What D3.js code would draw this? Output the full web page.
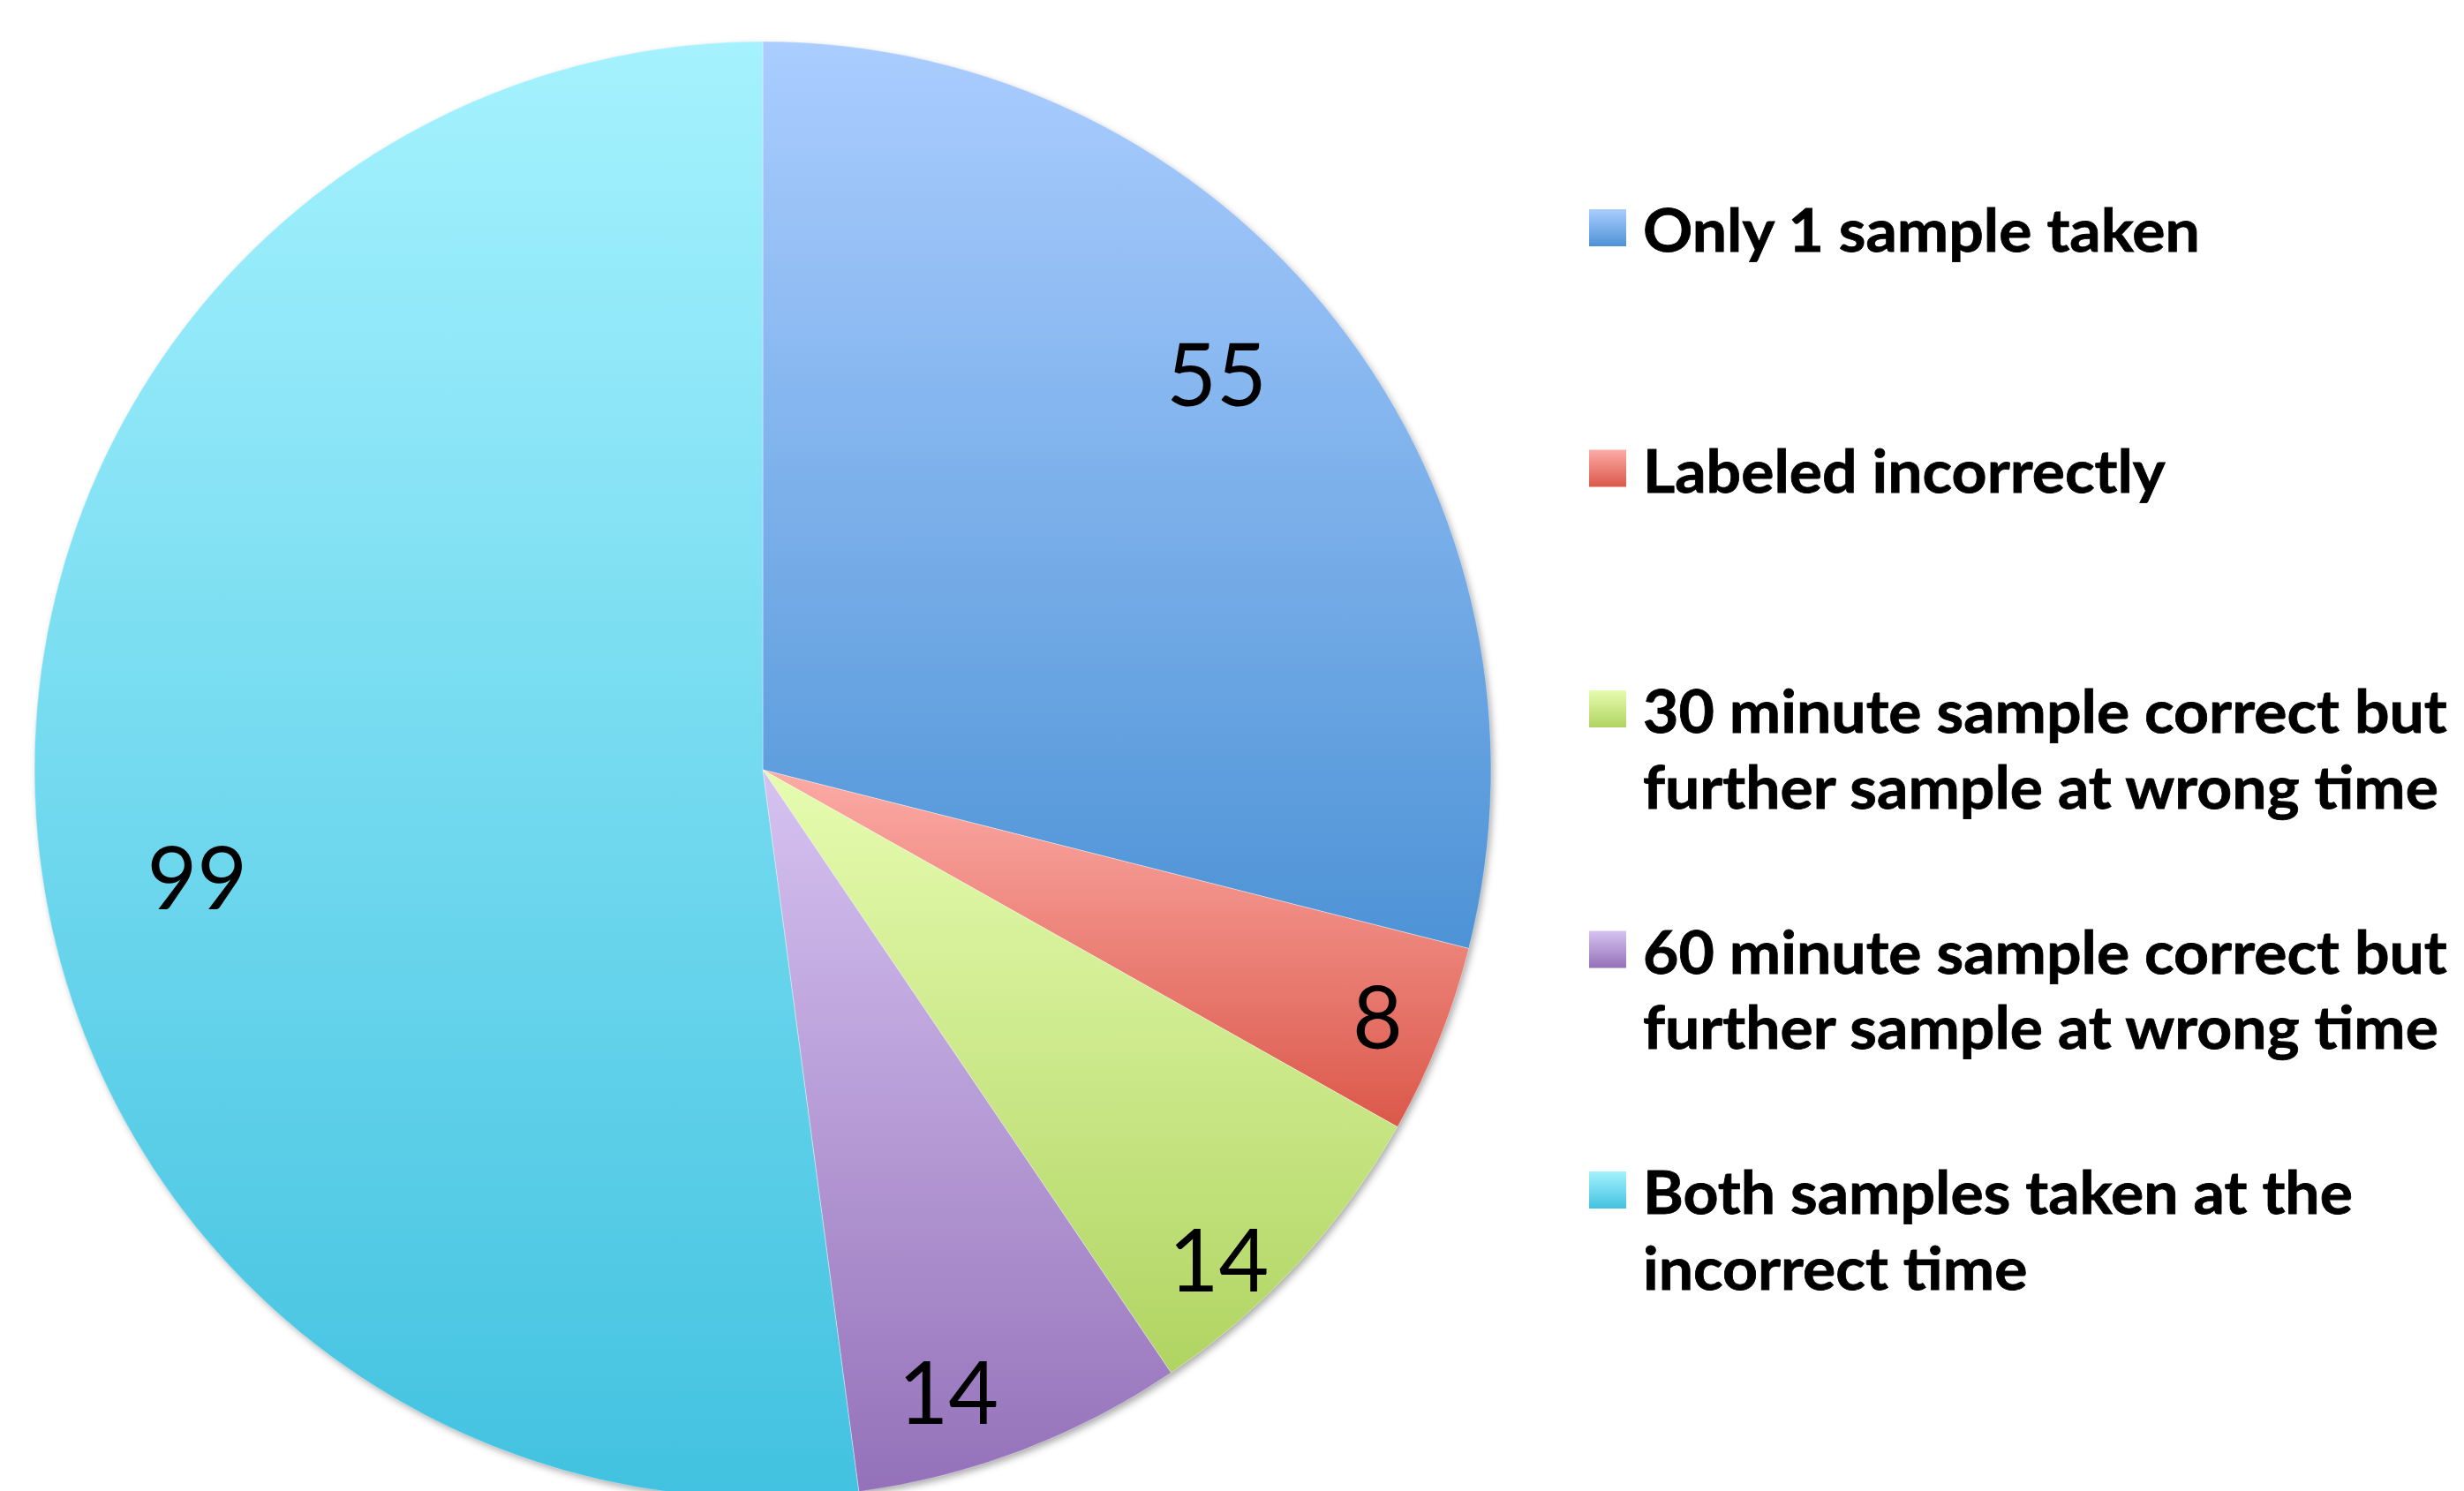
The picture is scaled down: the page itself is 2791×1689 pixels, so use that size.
<!DOCTYPE html>
<html>
<head>
<meta charset="utf-8">
<script src="https://cdn.jsdelivr.net/npm/d3@7"></script>
<style>
  html, body { margin: 0; padding: 0; background: #ffffff; }
  svg { display: block; }
</style>
</head>
<body>
<svg id="chart" width="2791" height="1689"></svg>
<script>
// ---- data ----
const categories = [
  "Only 1 sample taken",
  "Labeled incorrectly",
  "30 minute sample correct but further sample at wrong time",
  "60 minute sample correct but further sample at wrong time",
  "Both samples taken at the incorrect time"
];
const legendLines = [
  ["Only 1 sample taken"],
  ["Labeled incorrectly"],
  ["30 minute sample correct but", "further sample at wrong time"],
  ["60 minute sample correct but", "further sample at wrong time"],
  ["Both samples taken at the", "incorrect time"]
];
const values = [55, 8, 14, 14, 99];
const gradTop    = ["#abcdff", "#fcaba6", "#e6fcb0", "#d6c3f1", "#a5f2fe"];
const gradBottom = ["#4d93d6", "#db584a", "#b0d462", "#9471b9", "#42c2e0"];

// ---- layout config (label placement, like Excel "best fit") ----
const labelRadiusFrac = [0.828, 0.909, 0.917, 0.89, 0.79];
const labelAngleShiftDeg = [-3.3, 0, 4.3, 4.2, -6.8];

const W = 2791, H = 1689;
const cx = 864, cy = 872, R = 825;

const svg = d3.select("#chart");
const defs = svg.append("defs");

values.forEach((v, i) => {
  const g = defs.append("linearGradient")
    .attr("id", "grad" + i)
    .attr("x1", 0).attr("y1", 0).attr("x2", 0).attr("y2", 1);
  g.append("stop").attr("offset", "0%").attr("stop-color", gradTop[i]);
  g.append("stop").attr("offset", "100%").attr("stop-color", gradBottom[i]);
});

const f = defs.append("filter").attr("id", "shadow")
  .attr("x", "-10%").attr("y", "-10%").attr("width", "120%").attr("height", "120%");
f.append("feDropShadow")
  .attr("dx", 3).attr("dy", 4).attr("stdDeviation", 4)
  .attr("flood-color", "#000").attr("flood-opacity", 0.35);

const pie = d3.pie().sort(null).value(d => d)(values);
const arc = d3.arc().innerRadius(0).outerRadius(R);

const gPie = svg.append("g").attr("transform", `translate(${cx},${cy})`);

gPie.append("circle").attr("r", R - 1).attr("fill", "#fff").attr("filter", "url(#shadow)");

gPie.selectAll("path.slice")
  .data(pie)
  .join("path")
  .attr("class", "slice")
  .attr("d", arc)
  .attr("fill", (d, i) => `url(#grad${i})`)
  .attr("stroke", "rgba(255,255,255,0.35)")
  .attr("stroke-width", 1);

// data labels
gPie.selectAll("text.val")
  .data(pie)
  .join("text")
  .attr("class", "val")
  .attr("transform", (d, i) => {
    const a = (d.startAngle + d.endAngle) / 2 + labelAngleShiftDeg[i] * Math.PI / 180;
    const r = R * labelRadiusFrac[i];
    return `translate(${r * Math.sin(a)},${-r * Math.cos(a)})`;
  })
  .attr("text-anchor", "middle")
  .attr("dominant-baseline", "central")
  .attr("font-family", "Lato, 'Open Sans', sans-serif")
  .attr("font-size", 98)
  .attr("fill", "#000")
  .text(d => d.data);

// legend
const legendX = 1800, swatch = 42, textX = 1861;
const firstBaseline = 285, rowStep = 272.5, lineStep = 86;
const gLeg = svg.append("g");
const items = gLeg.selectAll("g.item")
  .data(legendLines)
  .join("g")
  .attr("class", "item")
  .attr("transform", (d, i) => `translate(0,${firstBaseline + i * rowStep})`);

items.append("rect")
  .attr("x", legendX).attr("y", -48)
  .attr("width", swatch).attr("height", swatch)
  .attr("fill", (d, i) => `url(#grad${i})`);

const texts = items.append("text")
  .attr("x", textX)
  .attr("font-family", "Lato, 'Open Sans', sans-serif")
  .attr("font-weight", "bold")
  .attr("font-size", 67)
  .attr("fill", "#000")
  .attr("stroke", "#000")
  .attr("stroke-width", 0.8);
texts.selectAll("tspan")
  .data(d => d)
  .join("tspan")
  .attr("x", textX)
  .attr("y", (d, j) => j * lineStep)
  .text(d => d);

let maxW = 0;
texts.selectAll("tspan").each(function () {
  maxW = Math.max(maxW, this.getComputedTextLength());
});
const targetW = 911;
if (maxW > 0) {
  const sx = targetW / maxW;
  texts.attr("transform", `translate(${textX},0) scale(${sx},1) translate(${-textX},0)`);
}
</script>
</body>
</html>
